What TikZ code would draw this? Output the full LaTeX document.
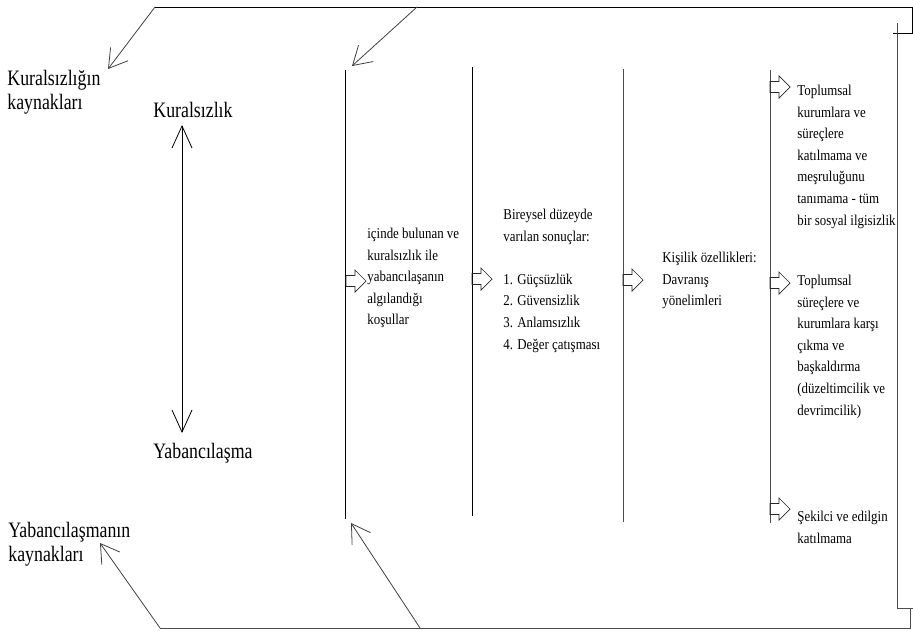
\documentclass[tikz,border=0pt]{standalone}
\usepackage{fontspec}
\setmainfont{Liberation Serif}
\newfontfamily\bigfont[FakeStretch=0.81]{Liberation Serif}
\newfontfamily\smallfont[FakeStretch=0.86]{Liberation Serif}
\usepackage{tikz}
\usetikzlibrary{arrows.meta}

\tikzset{blockarrow/.pic={
	\draw[black!85, line width=0.7pt] (0,-5.5) -- (9,-5.5) -- (9,-11) -- (20,0) -- (9,11) -- (9,5.5) -- (0,5.5) -- cycle;
}}

\begin{document}
\begin{tikzpicture}[x=1pt, y=-1pt,
		line width=0.8pt,
		big/.style={anchor=north west, inner sep=0pt, align=left, font=\bigfont\fontsize{22}{24}\selectfont},
		small/.style={anchor=north west, inner sep=0pt, align=left, font=\smallfont\fontsize{15}{21.6}\selectfont},
		barb/.style={-{Straight Barb[length=18pt,width=22pt]}, black!75},
		column/.style={black!70}]

	\useasboundingbox (0,0) rectangle (913,632);

	\node[big] (srcK) at (7,68) {\strut Kuralsızlığın\\kaynakları};
	\node[big] (kural) at (153,100) {\strut Kuralsızlık};
	\node[big] (yab) at (153,441) {\strut Yabancılaşma};
	\node[big] (srcY) at (8,520) {\strut Yabancılaşmanın\\kaynakları};

	\coordinate (up) at (182,125);
	\coordinate (down) at (182,433);
	\draw[{Straight Barb[length=22pt,width=20pt]}-{Straight Barb[length=22pt,width=20pt]}] (up) -- (down);

	\coordinate (topL) at (155,7);
	\coordinate (topM) at (417,7);
	\coordinate (topR) at (912,7);
	\coordinate (hookT) at (912,33);
	\coordinate (hookTin) at (893,33);
	\coordinate (brT) at (897,23);
	\coordinate (brB) at (897,608);
	\coordinate (brBout) at (913,608);
	\coordinate (hookB) at (910,608);
	\coordinate (botR) at (910,628);
	\coordinate (botM) at (420,628);
	\coordinate (botL) at (160,628);

	\coordinate (tipK) at (108,69);
	\coordinate (tipC) at (352,66);
	\coordinate (tipY) at (100,543);
	\coordinate (tipCb) at (351,523);

	\draw (topL) -- (topR) -- (hookT) -- (hookTin);
	\draw[column] (brT) -- (brB) -- (brBout);
	\draw[column] (hookB) -- (botR) -- (botL);
	\draw[barb] (topL) -- (tipK);
	\draw[barb] (topM) -- (tipC);
	\draw[barb] (botL) -- (tipY);
	\draw[barb] (botM) -- (tipCb);

	\coordinate (c1t) at (345,70);
	\coordinate (c1b) at (345,519);
	\coordinate (c2t) at (472,67);
	\coordinate (c2b) at (472,516);
	\coordinate (c3t) at (623,69);
	\coordinate (c3b) at (623,522);
	\coordinate (c4t) at (770,70);
	\coordinate (c4b) at (770,523);
	\draw (c1t) -- (c1b);
	\draw (c2t) -- (c2b);
	\draw[column] (c3t) -- (c3b);
	\draw[column] (c4t) -- (c4b);

	\pic (a1) at (346,281) {blockarrow};
	\pic (a2) at (472,279) {blockarrow};
	\pic (a3) at (623,280) {blockarrow};
	\pic (a4) at (770,87) {blockarrow};
	\pic (a5) at (770,283) {blockarrow};
	\pic (a6) at (770,509) {blockarrow};

	\node[small] (cond) at (367,223) {\strut içinde bulunan ve\\kuralsızlık ile\\yabancılaşanın\\algılandığı\\koşullar};
	\node[small] (result) at (503,204) {\strut Bireysel düzeyde\\varılan sonuçlar:\\ \\1. Güçsüzlük\\2. Güvensizlik\\3. Anlamsızlık\\4. Değer çatışması};
	\node[small] (traits) at (662,247) {\strut Kişilik özellikleri:\\Davranış\\yönelimleri};
	\node[small] (out1) at (797,80) {\strut Toplumsal\\kurumlara ve\\süreçlere\\katılmama ve\\meşruluğunu\\tanımama - tüm\\bir sosyal ilgisizlik};
	\node[small] (out2) at (797,270) {\strut Toplumsal\\süreçlere ve\\kurumlara karşı\\çıkma ve\\başkaldırma\\(düzeltimcilik ve\\devrimcilik)};
	\node[small] (out3) at (797,506) {\strut Şekilci ve edilgin\\katılmama};
\end{tikzpicture}
\end{document}
